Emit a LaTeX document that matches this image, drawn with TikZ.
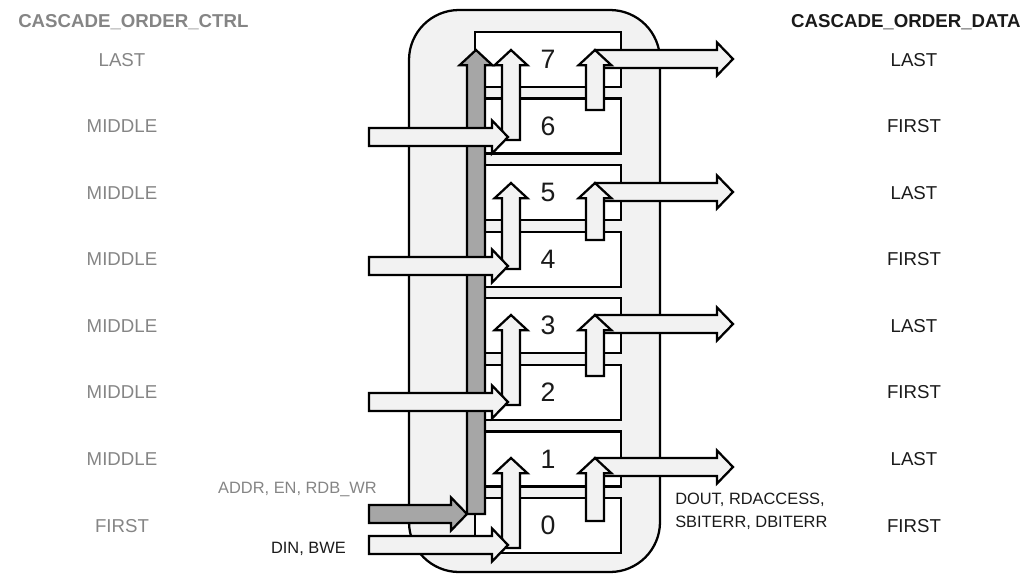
\documentclass[tikz,border=0pt]{standalone}
\usepackage{fontspec}
\setmainfont{Liberation Sans}
\usetikzlibrary{calc, positioning}
\definecolor{shellgray}{RGB}{242,242,242}
\definecolor{busgray}{RGB}{166,166,166}
\definecolor{ctrlgray}{RGB}{133,133,133}
\definecolor{datablack}{RGB}{26,26,26}
\tikzset{
  wire/.style={draw=black, line width=1.7pt},
  shell/.style={wire, fill=shellgray, rounded corners=37.5pt},
  bram/.style={wire, fill=white, minimum width=109.5pt, minimum height=41.25pt,
               inner sep=0pt, font=\fontsize{20}{24}\selectfont, text=datablack},
  ctrl/.style={font=\fontsize{14}{17}\selectfont, text=ctrlgray, inner sep=0pt, text depth=0pt},
  data/.style={font=\fontsize{14}{17}\selectfont, text=datablack, inner sep=0pt, text depth=0pt},
  head/.style={font=\fontsize{14}{17}\selectfont\bfseries, inner sep=0pt, text depth=0pt},
  sig/.style={font=\fontsize{12.3}{17.25}\selectfont, inner sep=0pt},
}
% fat outlined arrows: #2 tail, #3 tip
\newcommand{\fatright}[3][shellgray]{%
  \draw[wire, fill=#1] let \p1=#2, \p2=#3 in
    (\x1,\y2+6.75pt) -- (\x2-12pt,\y2+6.75pt) -- (\x2-12pt,\y2+12.4pt) -- (\p2)
    -- (\x2-12pt,\y2-12.4pt) -- (\x2-12pt,\y2-6.75pt) -- (\x1,\y2-6.75pt) -- cycle;}
\newcommand{\fatup}[3][shellgray]{%
  \draw[wire, fill=#1] let \p1=#2, \p2=#3 in
    (\x2-6.75pt,\y1) -- (\x2-6.75pt,\y2-11.5pt) -- (\x2-12.4pt,\y2-11.5pt) -- (\p2)
    -- (\x2+12.4pt,\y2-11.5pt) -- (\x2+6.75pt,\y2-11.5pt) -- (\x2+6.75pt,\y1) -- cycle;}

\begin{document}
\begin{tikzpicture}[x=0.75pt, y=-0.75pt]
\useasboundingbox (0,0) rectangle (1026,576);
\draw[shell] (409,10) rectangle (660,572);

% the eight cascaded blocks
\foreach \k in {0,...,7}
  \node[bram] (b\k) at (548, {59.5+(7-\k)*66.57}) {\k};

% read side
\foreach \u/\ty/\rb in {7/50/110, 5/183/240, 3/315/376, 1/458/521} {
  \coordinate (rdtip\u) at (595,\ty);
  \coordinate (rdbot\u) at (595,\rb);
  \coordinate (dout\u) at (595,{\ty+9});
  \coordinate (doutend\u) at (733,{\ty+9});
  \fatright{(dout\u)}{(doutend\u)}
  \fatup{(rdbot\u)}{(rdtip\u)}
}

% write side
\foreach \u/\ty/\wy in {7/50/137, 5/183/266, 3/315/402, 1/458/545} {
  \coordinate (wrtip\u) at (511,\ty);
  \coordinate (wrbot\u) at (511,{\wy+3});
  \fatup{(wrbot\u)}{(wrtip\u)}
}

% address bus
\coordinate (addrtip) at (476,50);
\coordinate (addrbot) at (476,514);
\coordinate (addrjoin) at (467,514);
\coordinate (addrin) at (369,514);
\fatup[busgray]{(addrbot)}{(addrtip)}
\fatright[busgray]{(addrin)}{(addrjoin)}

% data in
\foreach \l/\wy in {6/137, 4/266, 2/402, 0/545} {
  \coordinate (din\l) at (369,\wy);
  \coordinate (dintip\l) at (508,\wy);
  \fatright{(din\l)}{(dintip\l)}
}

% labels
\coordinate (ctrlcol) at (122,0);
\coordinate (datacol) at (914,0);
\foreach \k/\c/\d in {7/LAST/LAST, 6/MIDDLE/FIRST, 5/MIDDLE/LAST, 4/MIDDLE/FIRST,
                      3/MIDDLE/LAST, 2/MIDDLE/FIRST, 1/MIDDLE/LAST, 0/FIRST/FIRST} {
  \node[ctrl] (ctrl\k) at (b\k -| ctrlcol) {\c};
  \node[data] (data\k) at (b\k -| datacol) {\d};
}
\node[head, text=ctrlgray, anchor=west] (ctrlhead) at (18,21) {CASCADE\_ORDER\_CTRL};
\node[head, text=datablack, anchor=east] (datahead) at (1021,21) {CASCADE\_ORDER\_DATA};
\node[sig, text=ctrlgray, text depth=0pt, anchor=east] (addrlbl) at ($(addrin)+(8,-26)$) {ADDR, EN, RDB\_WR};
\node[sig, text=datablack, text depth=0pt, anchor=east] (dinlbl) at ($(din0)+(-23,3)$) {DIN, BWE};
\node[sig, text=datablack, anchor=north west, align=left] (doutlbl) at ($(doutend1)+(-58,26)$)
  {DOUT, RDACCESS,\\SBITERR, DBITERR};
\end{tikzpicture}
\end{document}
